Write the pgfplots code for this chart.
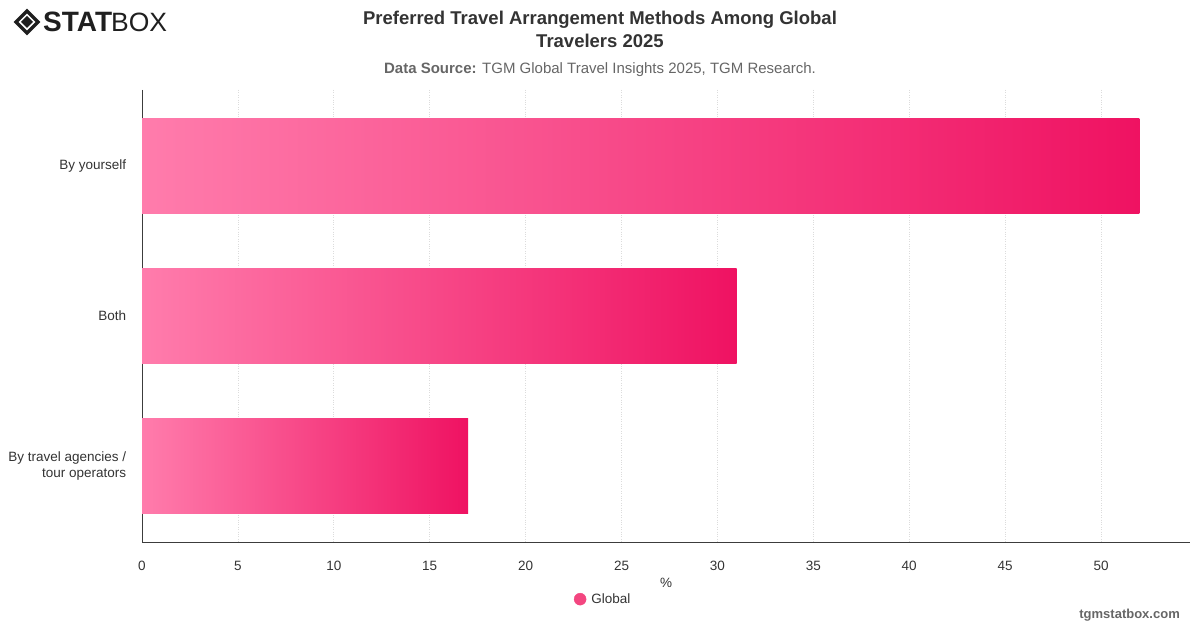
\documentclass[border=0pt]{standalone}
\usepackage{pgfplots}
\pgfplotsset{compat=1.18}
\usepackage{fontspec}
\setmainfont{Liberation Sans}
\definecolor{barL}{RGB}{255,124,172}
\definecolor{barR}{RGB}{239,18,98}
\definecolor{barM}{RGB}{243,70,128}
\definecolor{txt}{RGB}{51,51,51}
\definecolor{subtxt}{RGB}{102,102,102}
\definecolor{gridc}{RGB}{220,220,220}
\definecolor{axc}{RGB}{60,60,60}
\begin{document}
\begin{tikzpicture}
\useasboundingbox (0pt,0pt) rectangle (1200pt,628pt);
% logo
\begin{scope}[shift={(27pt,606pt)}]
\draw[line width=3.2pt,black!88] (0pt,-11pt) -- (11pt,0pt) -- (0pt,11pt) -- (-11pt,0pt) -- cycle;
\fill[black!88] (0pt,-6pt) -- (6pt,0pt) -- (0pt,6pt) -- (-6pt,0pt) -- cycle;
\end{scope}
\node[anchor=west,inner sep=0pt,text=black!88,font=\fontsize{28}{30}\selectfont\bfseries] at (43pt,606pt) {STAT};
\node[anchor=west,inner sep=0pt,text=black!88,font=\fontsize{26.5}{30}\selectfont] at (111pt,606pt) {BOX};
% titles
\node[align=center,text=txt,inner sep=0pt,font=\fontsize{18.5}{23}\selectfont\bfseries] at (600pt,598.5pt) {Preferred Travel Arrangement Methods Among Global\\Travelers 2025};
\node[text=subtxt,inner sep=0pt,font=\fontsize{15}{18}\selectfont] at (600pt,558pt) {\textbf{Data Source:} TGM Global Travel Insights 2025, TGM Research.};
\node[anchor=east,text=subtxt,inner sep=0pt,font=\fontsize{13}{15}\selectfont\bfseries] at (1180pt,13pt) {tgmstatbox.com};
\begin{axis}[
  at={(142pt,85pt)}, anchor=south west,
  scale only axis, width=1048pt, height=453pt,
  xbar, bar width=95pt, bar shift=0pt,
  xmin=0, xmax=54.64,
  ymin=-0.507, ymax=2.513, y dir=reverse,
  ytick={0,1,2},
  yticklabels={By yourself,Both,{By travel agencies /\\tour operators}},
  yticklabel style={align=right,font=\fontsize{13.5}{16}\selectfont,text=txt},
  xtick={0,5,...,50},
  xticklabel style={font=\fontsize{13.5}{15}\selectfont,text=txt},
  /pgf/number format/assume math mode=true,
  axis x line*=bottom, axis y line*=left,
  axis line style={axc,line width=1pt,-},
  x axis line style={draw=none},
  tick style={draw=none},
  xmajorgrids, major grid style={gridc,dotted,line width=0.8pt},
  xlabel={\%}, xlabel style={font=\fontsize{13.5}{15}\selectfont,text=txt,at={(axis description cs:0.5,-0.07)}},
  xticklabel shift=15pt,
  yticklabel shift=8pt,
  legend style={at={(axis description cs:0.44,-0.124)},anchor=center,draw=none,fill=none,font=\fontsize{13.5}{15}\selectfont,text=txt},
]
\addplot[draw=none, left color=barL, right color=barR, forget plot] coordinates {(52,0)};
\addplot[draw=none, left color=barL, right color=barR, forget plot] coordinates {(31,1)};
\addplot[draw=none, left color=barL, right color=barR, forget plot] coordinates {(17,2)};
\addlegendimage{legend image code/.code={\fill[barM] (-0.1em,0pt) circle (6pt);}}
\addlegendentry{\hspace{3pt}Global}
\draw[axc,line width=1pt] (axis cs:0,2.513) -- (axis cs:54.64,2.513);
\end{axis}
\end{tikzpicture}
\end{document}
